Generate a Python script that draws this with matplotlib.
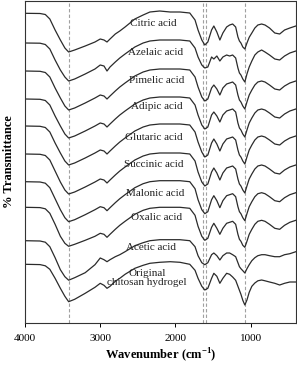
import matplotlib
matplotlib.use("Agg")
import matplotlib.pyplot as plt

plt.rcParams['font.family'] = ['Liberation Serif', 'DejaVu Serif']
plt.rcParams['mathtext.fontset'] = 'custom'
plt.rcParams['mathtext.rm'] = 'Liberation Serif'
plt.rcParams['mathtext.bf'] = 'Liberation Serif:bold'

# wavenumber grid (cm-1)
wavenumber = [4000, 3800, 3730, 3670, 3600, 3530, 3470, 3420, 3340, 3200,
              3070, 3000, 2950, 2910, 2870, 2800, 2740, 2670, 2540, 2430,
              2340, 2210, 2070, 1940, 1810, 1740, 1700, 1650, 1610, 1570,
              1520, 1490, 1450, 1410, 1370, 1320, 1280, 1240, 1200, 1170,
              1150, 1130, 1105, 1078, 1050, 1020, 985, 945, 905, 855,
              810, 750, 680, 615, 550, 480, 400]

labels = ["Citric acid", "Azelaic acid", "Pimelic acid", "Adipic acid",
          "Glutaric acid", "Succinic acid", "Malonic acid", "Oxalic acid",
          "Acetic acid", "Original\nchitosan hydrogel"]

# vertical offsets of each spectrum (stacked, arbitrary units)
offsets = [309.7, 280, 252, 224, 197, 169, 141.3, 115.7, 82.3, 58.7]

# drop in transmittance relative to 4000 cm-1 (arbitrary units)
citric = [0, 0.2, 1.2, 5.7, 16.7, 26.7, 34.7, 38.7, 36.7, 32.7,
          28.7, 25.7, 26.7, 28.7, 25.7, 20.7, 17.7, 13.7, 5.7, 1.7,
          -1.3, -2.3, -1.3, -1.3, -0.3, 6.7, 16.7, 26.7, 31.7, 28.7,
          16.7, 12.7, 18.7, 26.7, 19.7, 13.7, 11.7, 10.7, 13.7, 23.7,
          27.7, 29.7, 33.7, 35.7, 29.7, 24, 19.7, 14.7, 11.7, 10.7,
          11.7, 14.7, 19.7, 20.7, 16.7, 14.7, 12.7]
azelaic = [0, 0.2, 1.5, 6, 17, 27, 34, 38, 36, 31,
           26, 22, 23, 28, 24, 19, 15, 11, 4, 0,
           -2, -3, -3, -3, -2, 5, 14, 22, 25, 24,
           14, 16, 13, 18, 14, 12, 13, 12, 15, 25,
           30, 32, 36, 39, 31, 24, 18, 12, 9, 7,
           9, 12, 16, 17, 13, 10, 8]
pimelic = [0, 0.3, 1.5, 6, 17, 27, 35, 39, 37, 32,
           27, 24, 25, 28, 25, 20, 16, 12, 5, 1,
           -1, -2, -2, -2, -1, 6, 16, 26, 30, 28,
           17, 14, 18, 24, 17, 13, 12, 11, 14, 24,
           29, 31, 35, 38, 31, 24, 19, 14, 11, 10,
           11, 14, 18, 19, 15, 12, 10]
adipic = [0, 0.3, 1.5, 6, 17, 27, 35, 39, 37, 32,
          27, 24, 25, 28, 25, 20, 16, 12, 5, 1,
          -1, -2, -2, -2, -1, 6, 16, 26, 30, 28,
          16, 13, 17, 23, 16, 12, 11, 10, 13, 24,
          29, 31, 35, 38, 31, 24, 19, 14, 11, 10,
          11, 14, 18, 19, 15, 12, 10]
glutaric = [0, 0.3, 1.5, 6, 17, 27, 35, 39, 37, 32,
            27, 24, 25, 28, 25, 20, 16, 12, 5, 1,
            -1, -2, -2, -2, -1, 6, 16, 26, 31, 29,
            17, 13, 18, 25, 18, 13, 12, 11, 14, 24,
            29, 31, 35, 38, 31, 24, 19, 14, 11, 10,
            11, 14, 18, 19, 15, 12, 10]
succinic = [0, 0.3, 1.5, 6, 17, 28, 36, 40, 38, 33,
            28, 25, 26, 29, 26, 21, 17, 13, 6, 2,
            0, -1, -1, -1, 0, 7, 18, 28, 32, 30,
            18, 14, 19, 26, 19, 14, 13, 12, 15, 25,
            30, 32, 36, 39, 32, 25, 20, 15, 12, 11,
            12, 15, 19, 20, 16, 13, 11]
malonic = [0, 0.3, 1.5, 6, 17, 28, 36, 40, 38, 33,
           28, 25, 26, 29, 26, 21, 17, 13, 6, 2,
           0, -1, -1, -1, 0, 7, 18, 28, 32, 30,
           18, 14, 19, 26, 19, 14, 13, 12, 15, 25,
           30, 32, 36, 39, 32, 25, 20, 15, 12, 11,
           12, 15, 19, 20, 16, 13, 11]
oxalic = [0, 0.3, 1.5, 6, 17, 29, 36, 39, 37, 33,
          29, 26, 27, 30, 27, 22, 18, 14, 7, 3,
          1, 0, 0, 0, 1, 8, 19, 29, 33, 31,
          20, 16, 21, 27, 21, 16, 15, 14, 17, 27,
          32, 34, 38, 40, 34, 27, 22, 17, 14, 13,
          14, 17, 21, 22, 18, 15, 13]
acetic = [0, 0.3, 1.5, 6, 17, 29, 36, 39.5, 37, 32,
          24, 17.3, 19, 21, 19, 16, 14, 11, 5, 2,
          0, -1, -1, -1, 0, 6, 15, 22, 24, 22,
          14, 12.3, 15, 19.3, 15, 12.3, 12.3, 14, 16, 22,
          26, 28, 30, 32.3, 28, 24, 20, 17, 15, 14,
          14, 15, 16, 16, 14, 13, 11]
original = [0, 0.3, 1.5, 5, 14, 24, 32, 37.4, 35, 29,
            23, 19, 21, 24, 22, 17, 14, 10, 4, 1,
            -1, -2, -2.6, -2, 0, 6, 14, 22, 25.7, 24,
            14, 9, 12, 19, 14, 9, 10, 12.7, 16, 22,
            26, 30, 36, 40.7, 35.7, 28, 22, 18.7, 16.5, 15.7,
            16.5, 17.7, 19, 20.7, 19, 17.7, 17.7]

spectra = [citric, azelaic, pimelic, adipic, glutaric, succinic,
           malonic, oxalic, acetic, original]

# label anchor (wavenumber, height) for each spectrum
label_wn = [2300, 2265, 2245, 2245, 2290, 2290, 2275, 2245, 2330, 2380]
label_y = [300, 271, 243, 217, 186, 159, 130, 106, 76, 45]

marker_lines = [3420, 1640, 1598, 1076]

fig = plt.figure(figsize=(2.97, 3.65), dpi=100)
ax = fig.add_axes([25/297, 1 - 323/365, 271/297, 322/365])

for wn in marker_lines:
    ax.axvline(wn, color='#a0a0a0', lw=0.8, ls=(0, (3, 2)), zorder=1)

for off, d in zip(offsets, spectra):
    ax.plot(wavenumber, [off - v for v in d], color='#2b2b2b', lw=0.9, zorder=2)

for lab, lx, ly in zip(labels, label_wn, label_y):
    ax.text(lx, ly, lab, ha='center', va='center', fontsize=8,
            color='#222222', linespacing=1.0, zorder=3)

ax.set_xlim(4000, 398)
ax.set_ylim(0, 322)
ax.set_xticks([4000, 3000, 2000, 1000])
ax.set_xticklabels(['4000', '3000', '2000', '1000'])
ax.set_yticks([])
ax.tick_params(axis='x', direction='out', length=3, width=0.7, labelsize=8, pad=5)
for s in ax.spines.values():
    s.set_linewidth(0.8)
    s.set_color('#333333')

ax.set_xlabel('Wavenumber (cm$^{\\mathregular{-1}}$)', fontsize=9, fontweight='bold', labelpad=2)
ax.set_ylabel('% Transmittance', fontsize=9, fontweight='bold', labelpad=7)

fig.savefig('out.png', dpi=100)
